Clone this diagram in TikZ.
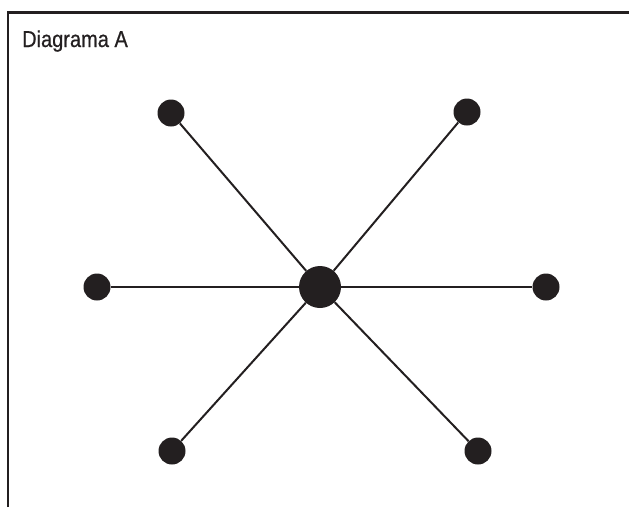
\documentclass[tikz,border=0pt]{standalone}
\usepackage{fontspec}
\newfontfamily\diagfont{Liberation Sans}[FakeStretch=0.87, FakeBold=0.6]
\usepackage{tikz}
\definecolor{ink}{HTML}{231F20}

\begin{document}
\begin{tikzpicture}[x=1pt, y=-1pt,
  hub/.style={circle, fill=ink, inner sep=0pt, minimum size=42pt},
  leaf/.style={circle, fill=ink, inner sep=0pt, minimum size=27pt},
  spoke/.style={draw=ink, line width=2pt},
]
  \useasboundingbox (0,0) rectangle (629,507);
  % frame, open at right and bottom
  \draw[ink, line width=2.2pt] (8,507) -- (8,12.5) -- (629,12.5);
  \node[anchor=base west, inner sep=0pt, font=\diagfont\fontsize{23}{26}\selectfont, text=ink]
    (title) at (22,47) {Diagrama A};

  \node[hub] (C) at (320,287) {};
  \node[leaf] (TL) at (171,113) {};
  \node[leaf] (TR) at (467,112) {};
  \node[leaf] (L) at (97,287) {};
  \node[leaf] (R) at (546,287) {};
  \node[leaf] (BL) at (172,451) {};
  \node[leaf] (BR) at (478,451) {};

  \foreach \n in {TL,TR,L,R,BL,BR}
    \draw[spoke] (C) -- (\n);
\end{tikzpicture}
\end{document}
